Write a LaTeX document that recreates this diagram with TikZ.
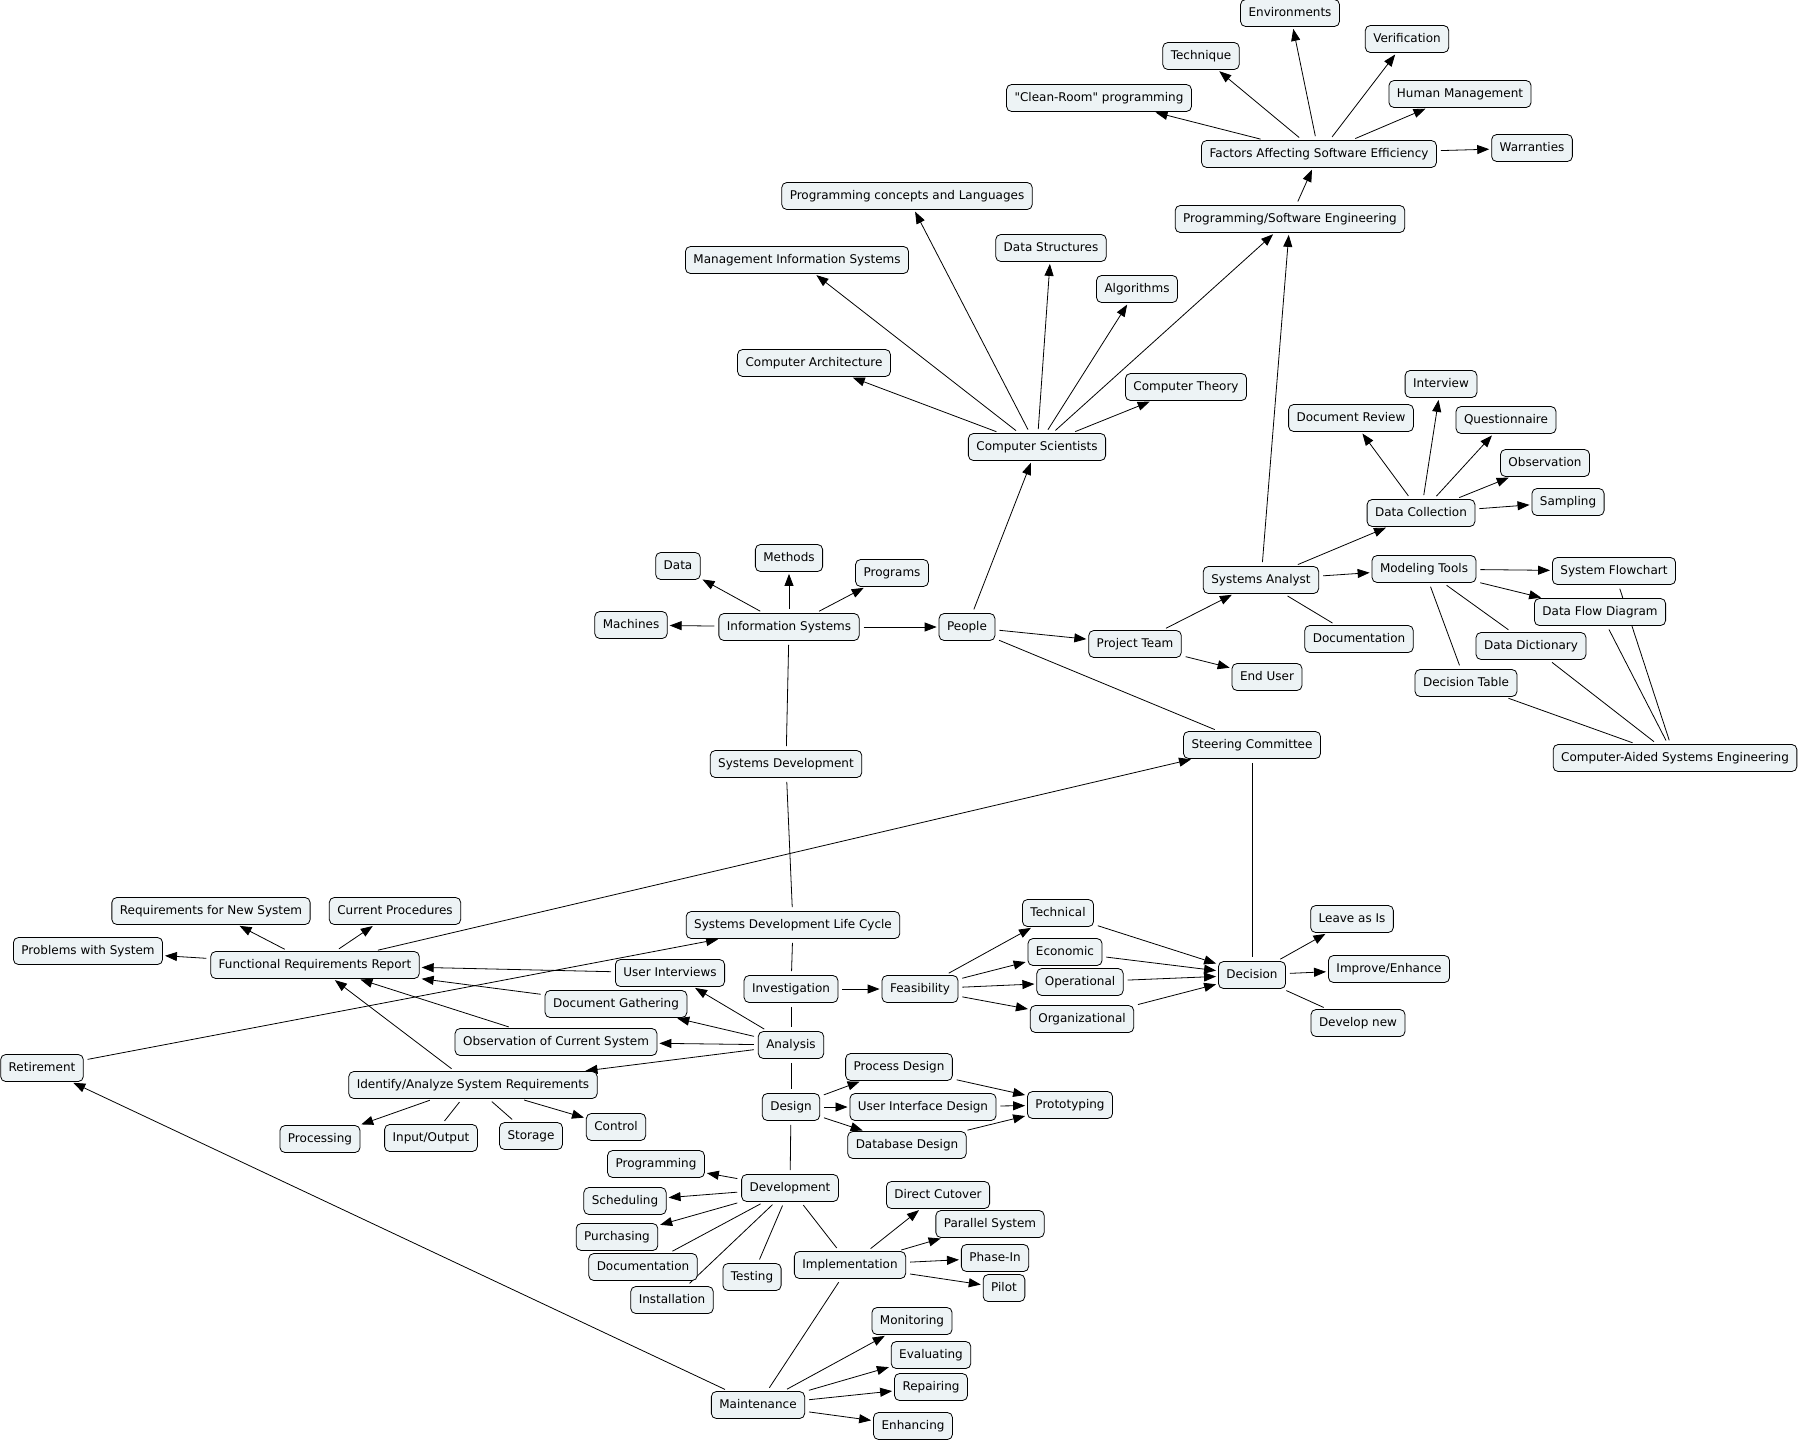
\documentclass[tikz,border=0pt]{standalone}
\usepackage{fontspec}
\setmainfont{DejaVu Sans}[Ligatures=TeXOff]
\usetikzlibrary{arrows.meta,backgrounds}
\definecolor{cmapfill}{RGB}{237,243,245}
\begin{document}
\begin{tikzpicture}[x=1pt,y=-1pt,
concept/.style={draw,rounded corners=5pt,fill=cmapfill,line width=0.8pt,font=\fontsize{12}{14}\selectfont,inner xsep=8pt,inner ysep=0pt,minimum height=27pt,text height=9pt,text depth=3pt},
link/.style={line width=0.8pt,-{Triangle[length=12pt,width=9pt]},shorten <=4pt,shorten >=2pt},
tie/.style={line width=0.8pt,shorten <=4pt,shorten >=4pt}]
\useasboundingbox (0,0) rectangle (1801,1444);
\node[concept] (env) at (1290, 13) {Environments};
\node[concept] (verif) at (1407, 39) {Verification};
\node[concept] (techn) at (1201, 56) {Technique};
\node[concept] (cleanroom) at (1099, 98) {"Clean-Room" programming};
\node[concept] (humman) at (1460, 94) {Human Management};
\node[concept] (factors) at (1319, 154) {Factors Affecting Software Efficiency};
\node[concept] (warr) at (1532, 148) {Warranties};
\node[concept] (progse) at (1290, 219) {Programming/Software Engineering};
\node[concept] (progconc) at (907, 196) {Programming concepts and Languages};
\node[concept] (datastr) at (1051, 248) {Data Structures};
\node[concept] (mis) at (797, 260) {Management Information Systems};
\node[concept] (algo) at (1137, 289) {Algorithms};
\node[concept] (comparch) at (814, 363) {Computer Architecture};
\node[concept] (comptheory) at (1186, 387) {Computer Theory};
\node[concept] (compsci) at (1037, 447) {Computer Scientists};
\node[concept] (interview) at (1441, 384) {Interview};
\node[concept] (docreview) at (1351, 418) {Document Review};
\node[concept] (quest) at (1506, 420) {Questionnaire};
\node[concept] (observ) at (1545, 463) {Observation};
\node[concept] (sampling) at (1568, 502) {Sampling};
\node[concept] (datacoll) at (1421, 513) {Data Collection};
\node[concept] (modeling) at (1424, 569) {Modeling Tools};
\node[concept] (flowchart) at (1614, 571) {System Flowchart};
\node[concept] (dfd) at (1600, 612) {Data Flow Diagram};
\node[concept] (analyst) at (1261, 580) {Systems Analyst};
\node[concept] (docanalyst) at (1359, 639) {Documentation};
\node[concept] (dictionary) at (1531, 646) {Data Dictionary};
\node[concept] (dectable) at (1466, 683) {Decision Table};
\node[concept] (case) at (1675, 758) {Computer-Aided Systems Engineering};
\node[concept] (data) at (678, 566) {Data};
\node[concept] (methods) at (789, 558) {Methods};
\node[concept] (programs) at (892, 573) {Programs};
\node[concept] (machines) at (631, 625) {Machines};
\node[concept] (infosys) at (789, 627) {Information Systems};
\node[concept] (people) at (967, 627) {People};
\node[concept] (projteam) at (1135, 644) {Project Team};
\node[concept] (enduser) at (1267, 677) {End User};
\node[concept] (sysdev) at (786, 764) {Systems Development};
\node[concept] (steering) at (1252, 745) {Steering Committee};
\node[concept] (reqnew) at (211, 911) {Requirements for New System};
\node[concept] (curproc) at (395, 911) {Current Procedures};
\node[concept] (problems) at (88, 951) {Problems with System};
\node[concept] (frr) at (315, 965) {Functional Requirements Report};
\node[concept] (sdlc) at (793, 925) {Systems Development Life Cycle};
\node[concept] (userint) at (670, 973) {User Interviews};
\node[concept] (docgath) at (616, 1004) {Document Gathering};
\node[concept] (investig) at (791, 989) {Investigation};
\node[concept] (feasib) at (920, 989) {Feasibility};
\node[concept] (technical) at (1058, 913) {Technical};
\node[concept] (economic) at (1065, 952) {Economic};
\node[concept] (operational) at (1080, 982) {Operational};
\node[concept] (organiz) at (1082, 1019) {Organizational};
\node[concept] (decision) at (1252, 975) {Decision};
\node[concept] (leave) at (1352, 919) {Leave as Is};
\node[concept] (improve) at (1389, 969) {Improve/Enhance};
\node[concept] (developnew) at (1358, 1023) {Develop new};
\node[concept] (observcur) at (556, 1042) {Observation of Current System};
\node[concept] (analysis) at (791, 1045) {Analysis};
\node[concept] (retirement) at (42, 1068) {Retirement};
\node[concept] (identify) at (473, 1085) {Identify/Analyze System Requirements};
\node[concept] (processing) at (320, 1139) {Processing};
\node[concept] (inout) at (431, 1138) {Input/Output};
\node[concept] (storage) at (531, 1136) {Storage};
\node[concept] (control) at (616, 1127) {Control};
\node[concept] (procdesign) at (899, 1067) {Process Design};
\node[concept] (design) at (791, 1107) {Design};
\node[concept] (uidesign) at (923, 1107) {User Interface Design};
\node[concept] (prototyping) at (1070, 1105) {Prototyping};
\node[concept] (dbdesign) at (907, 1145) {Database Design};
\node[concept] (programming) at (656, 1164) {Programming};
\node[concept] (development) at (790, 1188) {Development};
\node[concept] (scheduling) at (625, 1201) {Scheduling};
\node[concept] (purchasing) at (617, 1237) {Purchasing};
\node[concept] (docdev) at (643, 1267) {Documentation};
\node[concept] (installation) at (672, 1300) {Installation};
\node[concept] (testing) at (752, 1277) {Testing};
\node[concept] (implement) at (850, 1265) {Implementation};
\node[concept] (cutover) at (938, 1195) {Direct Cutover};
\node[concept] (parallel) at (990, 1224) {Parallel System};
\node[concept] (phasein) at (995, 1258) {Phase-In};
\node[concept] (pilot) at (1004, 1288) {Pilot};
\node[concept] (monitoring) at (912, 1321) {Monitoring};
\node[concept] (evaluating) at (931, 1355) {Evaluating};
\node[concept] (repairing) at (931, 1387) {Repairing};
\node[concept] (enhancing) at (913, 1426) {Enhancing};
\node[concept] (maintenance) at (758, 1405) {Maintenance};
\begin{scope}[on background layer]
\draw[link] (factors) -- (env);
\draw[link] (factors) -- (verif);
\draw[link] (factors) -- (techn);
\draw[link] (factors) -- (cleanroom);
\draw[link] (factors) -- (humman);
\draw[link] (factors) -- (warr);
\draw[link] (progse) -- (factors);
\draw[link] (compsci) -- (progconc);
\draw[link] (compsci) -- (datastr);
\draw[link] (compsci) -- (mis);
\draw[link] (compsci) -- (algo);
\draw[link] (compsci) -- (comparch);
\draw[link] (compsci) -- (comptheory);
\draw[link] (compsci) -- (progse);
\draw[link] (people) -- (compsci);
\draw[link] (people) -- (projteam);
\draw[tie] (people) -- (steering);
\draw[link] (projteam) -- (analyst);
\draw[link] (projteam) -- (enduser);
\draw[link] (analyst) -- (progse);
\draw[link] (analyst) -- (datacoll);
\draw[link] (analyst) -- (modeling);
\draw[tie] (analyst) -- (docanalyst);
\draw[link] (datacoll) -- (docreview);
\draw[link] (datacoll) -- (interview);
\draw[link] (datacoll) -- (quest);
\draw[link] (datacoll) -- (observ);
\draw[link] (datacoll) -- (sampling);
\draw[link] (modeling) -- (flowchart);
\draw[link] (modeling) -- (dfd);
\draw[tie] (modeling) -- (dictionary);
\draw[tie] (modeling) -- (dectable);
\draw[tie] (case) -- (flowchart);
\draw[tie] (case) -- (dfd);
\draw[tie] (case) -- (dictionary);
\draw[tie] (case) -- (dectable);
\draw[link] (infosys) -- (data);
\draw[link] (infosys) -- (methods);
\draw[link] (infosys) -- (programs);
\draw[link] (infosys) -- (machines);
\draw[link] (infosys) -- (people);
\draw[tie] (infosys) -- (sysdev);
\draw[tie] (sysdev) -- (sdlc);
\draw[tie] (steering) -- (decision);
\draw[link] (frr) -- (steering);
\draw[link] (frr) -- (reqnew);
\draw[link] (frr) -- (curproc);
\draw[link] (frr) -- (problems);
\draw[link] (userint) -- (frr);
\draw[link] (docgath) -- (frr);
\draw[link] (observcur) -- (frr);
\draw[link] (identify) -- (frr);
\draw[link] (retirement) -- (sdlc);
\draw[link] (maintenance) -- (retirement);
\draw[tie] (sdlc) -- (investig);
\draw[tie] (investig) -- (analysis);
\draw[tie] (analysis) -- (design);
\draw[tie] (design) -- (development);
\draw[tie] (development) -- (implement);
\draw[tie] (implement) -- (maintenance);
\draw[link] (investig) -- (feasib);
\draw[link] (feasib) -- (technical);
\draw[link] (feasib) -- (economic);
\draw[link] (feasib) -- (operational);
\draw[link] (feasib) -- (organiz);
\draw[link] (technical) -- (decision);
\draw[link] (economic) -- (decision);
\draw[link] (operational) -- (decision);
\draw[link] (organiz) -- (decision);
\draw[link] (decision) -- (leave);
\draw[link] (decision) -- (improve);
\draw[tie] (decision) -- (developnew);
\draw[link] (analysis) -- (userint);
\draw[link] (analysis) -- (docgath);
\draw[link] (analysis) -- (observcur);
\draw[link] (analysis) -- (identify);
\draw[link] (identify) -- (processing);
\draw[tie] (identify) -- (inout);
\draw[tie] (identify) -- (storage);
\draw[link] (identify) -- (control);
\draw[link] (design) -- (procdesign);
\draw[link] (design) -- (uidesign);
\draw[link] (design) -- (dbdesign);
\draw[link] (procdesign) -- (prototyping);
\draw[link] (uidesign) -- (prototyping);
\draw[link] (dbdesign) -- (prototyping);
\draw[link] (development) -- (programming);
\draw[link] (development) -- (scheduling);
\draw[link] (development) -- (purchasing);
\draw[tie] (development) -- (docdev);
\draw[tie] (development) -- (installation);
\draw[tie] (development) -- (testing);
\draw[link] (implement) -- (cutover);
\draw[link] (implement) -- (parallel);
\draw[link] (implement) -- (phasein);
\draw[link] (implement) -- (pilot);
\draw[link] (maintenance) -- (monitoring);
\draw[link] (maintenance) -- (evaluating);
\draw[link] (maintenance) -- (repairing);
\draw[link] (maintenance) -- (enhancing);
\end{scope}
\end{tikzpicture}
\end{document}
